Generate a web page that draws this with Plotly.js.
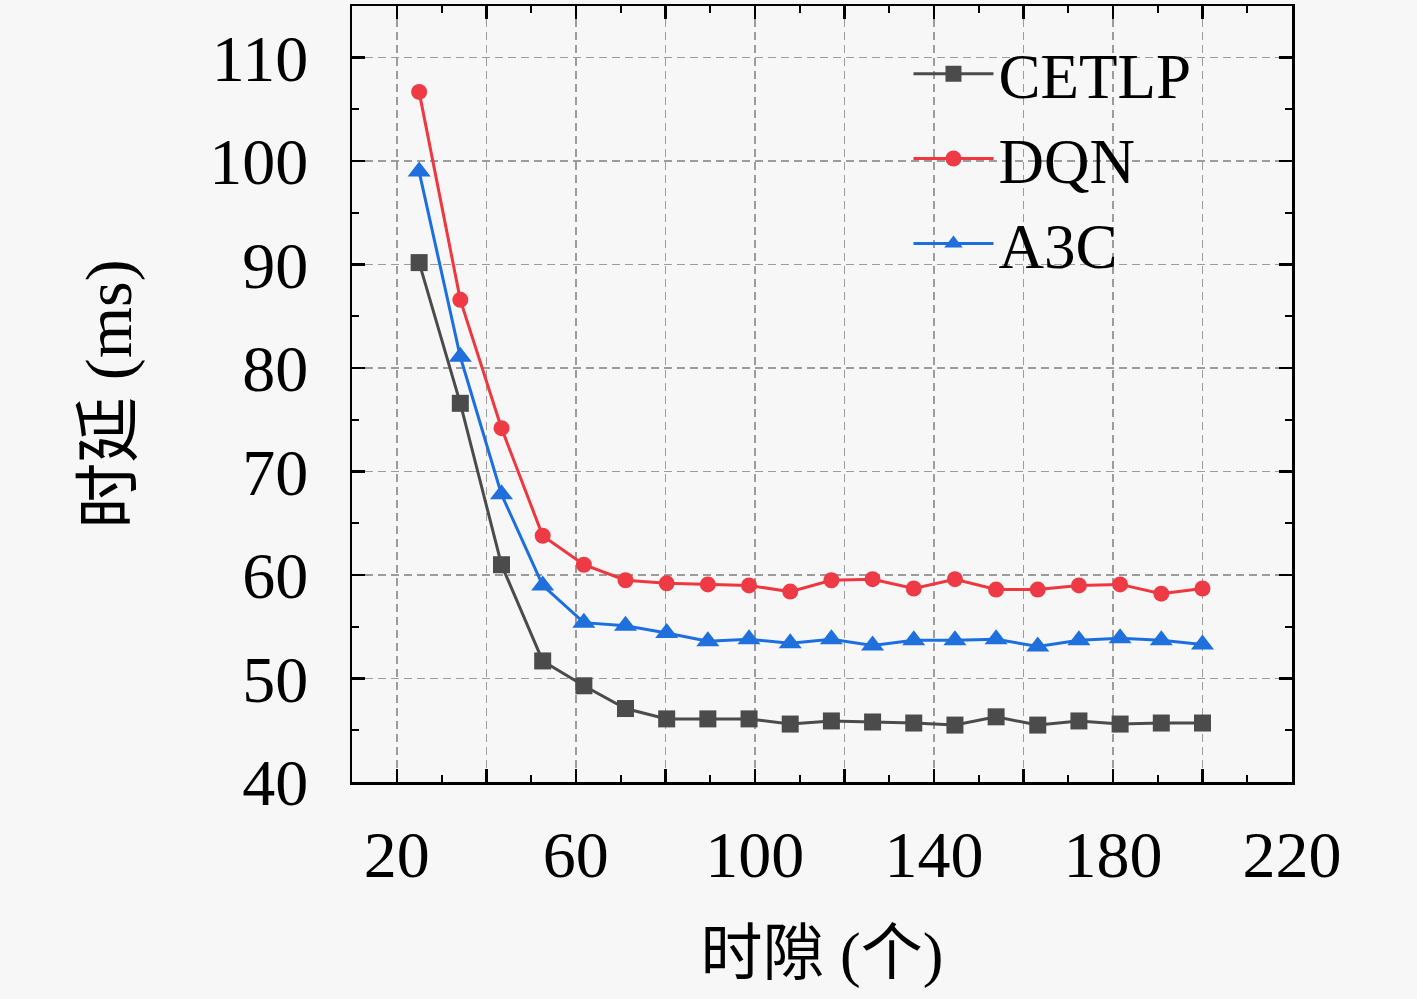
<!DOCTYPE html>
<html>
<head>
<meta charset="utf-8">
<script src="https://cdn.plot.ly/plotly-3.0.1.min.js"></script>
<style>
  html, body { margin: 0; padding: 0; background: #f7f7f7; }
</style>
</head>
<body>
<div id="graphDiv" style="width:1417px;height:999px;"></div>
<script>
// html tag
const graphDiv = document.getElementById('graphDiv');

// data **************************************************************
const slots = [25, 34.2, 43.4, 52.6, 61.8, 71.1, 80.3, 89.5, 98.7, 107.9,
               117.1, 126.3, 135.5, 144.7, 153.9, 163.2, 172.4, 181.6, 190.8, 200];

const delayCETLP = [90.2, 76.6, 61.0, 51.7, 49.3, 47.1, 46.1, 46.1, 46.1, 45.6,
                    45.9, 45.8, 45.7, 45.5, 46.3, 45.5, 45.9, 45.6, 45.7, 45.7];
const delayDQN   = [106.7, 86.6, 74.2, 63.8, 61.0, 59.5, 59.2, 59.1, 59.0, 58.4,
                    59.5, 59.6, 58.7, 59.6, 58.6, 58.6, 59.0, 59.1, 58.2, 58.7];
const delayA3C   = [99.0, 81.1, 67.8, 59.0, 55.4, 55.1, 54.4, 53.6, 53.8, 53.4,
                    53.8, 53.2, 53.7, 53.7, 53.8, 53.1, 53.7, 53.9, 53.7, 53.3];

const seriesNames = ['CETLP', 'DQN', 'A3C'];
const xTitle = '时隙 (个)';
const yTitle = '时延 (ms)';

// style *************************************************************
const fontFam = '"Liberation Serif", "Noto Sans CJK SC", serif';
const gridCol = '#9c9c9c';

const axisCommon = {
  showline: true,
  linewidth: 2.5,
  linecolor: '#000',
  mirror: 'allticks',
  ticks: 'inside',
  ticklen: 13,
  tickwidth: 2.5,
  tickcolor: '#000',
  showgrid: true,
  gridcolor: gridCol,
  gridwidth: 1.5,
  griddash: '8px,5px',
  zeroline: false,
  tickfont: { family: fontFam, size: 66, color: '#000' }
};

Plotly.newPlot(
  graphDiv,
  [
  {
    name: seriesNames[0],
    x: slots,
    y: delayCETLP,
    mode: 'lines+markers',
    line: { color: '#4b4b4b', width: 3 },
    marker: { symbol: 'square', size: 17, color: '#4b4b4b' }
  },
  {
    name: seriesNames[1],
    x: slots,
    y: delayDQN,
    mode: 'lines+markers',
    line: { color: '#f0363f', width: 3 },
    marker: { symbol: 'circle', size: 16, color: '#ee3a44' }
  },
  {
    name: seriesNames[2],
    x: slots,
    y: delayA3C,
    mode: 'lines+markers',
    line: { color: '#1c6fe0', width: 3 },
    marker: { symbol: 'triangle-up', size: 20, color: '#1f6fdc' }
  }
  ],
  {
    width: 1417,
    height: 999,
    paper_bgcolor: '#f7f7f7',
    plot_bgcolor: '#f7f7f7',
    margin: { l: 352, r: 125, t: 6, b: 217 },
    font: { family: fontFam, color: '#000' },
    showlegend: true,
    legend: {
      x: 0.592, y: 0.974, xanchor: 'left', yanchor: 'top',
      bgcolor: 'rgba(0,0,0,0)',
      font: { family: fontFam, size: 63, color: '#000' },
      itemwidth: 80
    },
    xaxis: Object.assign({}, axisCommon, {
      range: [10, 220],
      tick0: 20,
      dtick: 20,
      ticklabelstep: 2,
      ticklabelstandoff: 13,
      minor: { ticks: 'inside', dtick: 10, ticklen: 7, tickwidth: 2, tickcolor: '#000', showgrid: false },
      title: { text: xTitle, font: { family: fontFam, size: 62, color: '#000' }, standoff: 42 }
    }),
    yaxis: Object.assign({}, axisCommon, {
      range: [40, 115],
      tick0: 40,
      dtick: 10,
      ticklabelstandoff: 28,
      minor: { ticks: 'inside', dtick: 5, ticklen: 7, tickwidth: 2, tickcolor: '#000', showgrid: false },
      title: { text: yTitle, font: { family: fontFam, size: 66, color: '#000' }, standoff: 56 }
    })
  },
  { displayModeBar: false, staticPlot: true }
);
</script>
</body>
</html>
